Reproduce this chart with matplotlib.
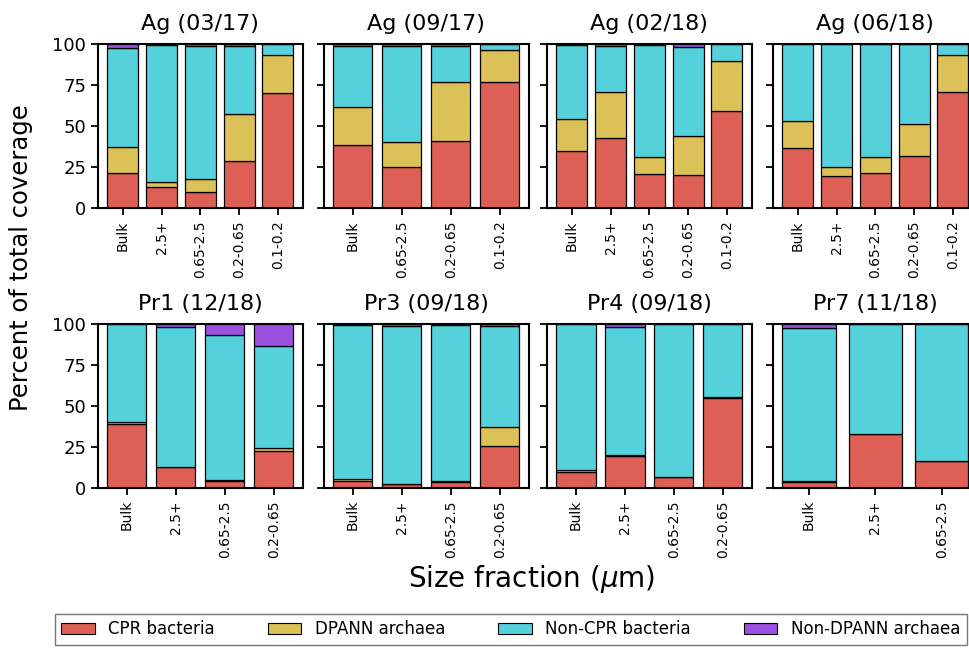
import matplotlib
matplotlib.use("Agg")
import matplotlib.pyplot as plt
import numpy as np

# panel titles and size-fraction categories
titles = ["Ag (03/17)", "Ag (09/17)", "Ag (02/18)", "Ag (06/18)",
          "Pr1 (12/18)", "Pr3 (09/18)", "Pr4 (09/18)", "Pr7 (11/18)"]
fractions = [
    ["Bulk", "2.5+", "0.65-2.5", "0.2-0.65", "0.1-0.2"],
    ["Bulk", "0.65-2.5", "0.2-0.65", "0.1-0.2"],
    ["Bulk", "2.5+", "0.65-2.5", "0.2-0.65", "0.1-0.2"],
    ["Bulk", "2.5+", "0.65-2.5", "0.2-0.65", "0.1-0.2"],
    ["Bulk", "2.5+", "0.65-2.5", "0.2-0.65"],
    ["Bulk", "2.5+", "0.65-2.5", "0.2-0.65"],
    ["Bulk", "2.5+", "0.65-2.5", "0.2-0.65"],
    ["Bulk", "2.5+", "0.65-2.5"],
]

# percent of total coverage per group
cpr = [
    [21.3, 13.2, 10.1, 28.8, 70.4],
    [38.3, 24.9, 41.0, 76.7],
    [35.1, 42.6, 20.7, 20.3, 59.6],
    [36.9, 19.9, 21.3, 32.0, 70.8],
    [39.0, 12.7, 4.4, 22.8],
    [4.6, 2.6, 3.6, 25.9],
    [9.9, 19.8, 6.7, 55.2],
    [4.0, 33.3, 16.8],
]
dpann = [
    [16.2, 2.6, 7.9, 28.6, 23.1],
    [23.6, 15.3, 35.7, 20.1],
    [19.1, 28.2, 10.5, 23.7, 29.9],
    [16.4, 5.0, 9.7, 19.7, 22.9],
    [1.6, 0.3, 0.6, 2.0],
    [1.1, 0.2, 1.0, 11.7],
    [1.4, 0.3, 0.3, 0.3],
    [0.3, 0.0, 0.0],
]
non_dpann = [
    [2.0, 0.5, 1.2, 1.0, 0.0],
    [1.2, 1.2, 1.2, 0.0],
    [0.5, 1.0, 0.5, 1.6, 0.0],
    [0.0, 0.0, 0.0, 0.0, 0.0],
    [0.0, 1.6, 6.5, 13.5],
    [0.4, 1.4, 0.3, 1.4],
    [0.0, 1.6, 0.0, 0.0],
    [2.4, 0.0, 0.0],
]
# non-CPR bacteria = remainder up to 100
non_cpr = [[100 - c - d - n for c, d, n in zip(cs, ds, ns)]
           for cs, ds, ns in zip(cpr, dpann, non_dpann)]

groups = ["CPR bacteria", "DPANN archaea", "Non-CPR bacteria", "Non-DPANN archaea"]
colors = ["#dd5f56", "#dbc158", "#54d1da", "#9b50df"]

plt.rcParams["font.family"] = "DejaVu Sans"
fig = plt.figure(figsize=(9.7, 6.51), dpi=100)

lefts = [0.101, 0.334, 0.564, 0.797]
bottoms = [0.680, 0.250]
w, h = 0.211, 0.252

for i, title in enumerate(titles):
    ax = fig.add_axes([lefts[i % 4], bottoms[i // 4], w, h])
    x = np.arange(len(fractions[i]))
    bottom = np.zeros(len(x))
    for vals, col in zip([cpr[i], dpann[i], non_cpr[i], non_dpann[i]], colors):
        vals = np.array(vals)
        ax.bar(x, vals, bottom=bottom, width=0.8, color=col,
               edgecolor="black", linewidth=0.9)
        bottom += vals
    ax.set_ylim(0, 100)
    ax.set_yticks([0, 25, 50, 75, 100])
    ax.set_xticks(x)
    ax.set_xticklabels(fractions[i], rotation=90, fontsize=10)
    ax.set_title(title, fontsize=16, pad=10)
    for s in ax.spines.values():
        s.set_linewidth(1.5)
    ax.tick_params(width=1.3, length=5, labelsize=13)
    ax.tick_params(axis="x", labelsize=10)
    if i % 4 != 0:
        ax.set_yticklabels([])

fig.text(0.022, 0.605, "Percent of total coverage", rotation=90,
         ha="center", va="center", fontsize=17.5)
fig.text(0.548, 0.11, r"Size fraction ($\mu$m)", ha="center", va="center",
         fontsize=20)

handles = [plt.Rectangle((0, 0), 1, 1, facecolor=c, edgecolor="black",
                         linewidth=0.8) for c in colors]
fig.legend(handles, groups, loc="lower left", ncol=4,
           bbox_to_anchor=(0.053, 0.004, 0.947, 0.06), mode="expand",
           fontsize=12, frameon=True, fancybox=False, edgecolor="#555555",
           handlelength=2.0, borderaxespad=0.2)

fig.savefig("out.png", dpi=100)
